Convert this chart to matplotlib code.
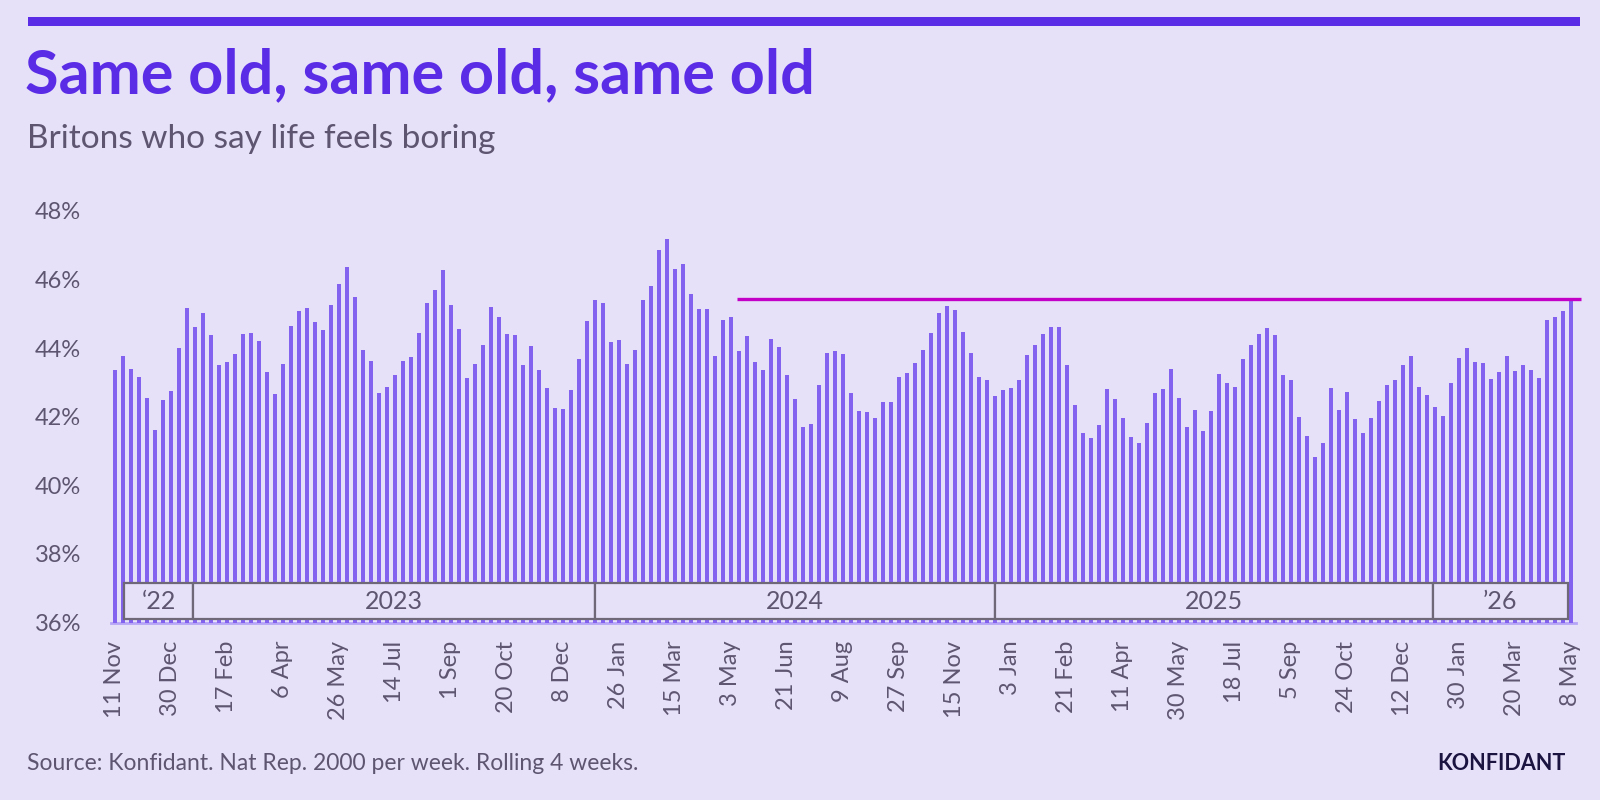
import matplotlib
matplotlib.use("Agg")
import matplotlib.pyplot as plt
from matplotlib.patches import Rectangle

# ---------------- data ----------------
values = [
    43.36, 43.78, 43.39, 43.16, 42.54, 41.62, 42.49, 42.75, 44.01, 45.17,
    44.62, 45.03, 44.37, 43.50, 43.59, 43.83, 44.42, 44.45, 44.22, 43.29,
    42.65, 43.55, 44.65, 45.09, 45.16, 44.75, 44.53, 45.27, 45.86, 46.36,
    45.48, 43.95, 43.62, 42.70, 42.88, 43.22, 43.62, 43.73, 44.45, 45.32,
    45.69, 46.28, 45.25, 44.55, 43.14, 43.55, 44.09, 45.20, 44.92, 44.42,
    44.37, 43.50, 44.06, 43.37, 42.83, 42.26, 42.23, 42.78, 43.67, 44.78,
    45.40, 45.32, 44.17, 44.25, 43.55, 43.94, 45.40, 45.81, 46.87, 47.17,
    46.31, 46.46, 45.58, 45.14, 45.14, 43.78, 44.81, 44.91, 43.91, 44.34,
    43.59, 43.37, 44.27, 44.04, 43.22, 42.52, 41.69, 41.80, 42.93, 43.86,
    43.91, 43.83, 42.68, 42.18, 42.13, 41.97, 42.44, 42.42, 43.17, 43.28,
    43.57, 43.95, 44.45, 45.03, 45.22, 45.12, 44.48, 43.86, 43.17, 43.06,
    42.61, 42.77, 42.85, 43.08, 43.81, 44.08, 44.42, 44.62, 44.62, 43.52,
    42.33, 41.52, 41.39, 41.76, 42.80, 42.52, 41.97, 41.41, 41.23, 41.83,
    42.70, 42.80, 43.39, 42.54, 41.69, 42.21, 41.57, 42.18, 43.24, 42.98,
    42.88, 43.67, 44.08, 44.42, 44.58, 44.39, 43.22, 43.08, 42.00, 41.44,
    40.82, 41.22, 42.83, 42.21, 42.72, 41.94, 41.53, 41.97, 42.47, 42.93,
    43.06, 43.52, 43.76, 42.88, 42.62, 42.28, 42.03, 42.98, 43.70, 44.01,
    43.59, 43.57, 43.11, 43.31, 43.78, 43.34, 43.52, 43.37, 43.14, 44.81,
    44.91, 45.09, 45.37,
]

tick_labels = ["11 Nov", "30 Dec", "17 Feb", "6 Apr", "26 May", "14 Jul", "1 Sep",
               "20 Oct", "8 Dec", "26 Jan", "15 Mar", "3 May", "21 Jun", "9 Aug",
               "27 Sep", "15 Nov", "3 Jan", "21 Feb", "11 Apr", "30 May", "18 Jul",
               "5 Sep", "24 Oct", "12 Dec", "30 Jan", "20 Mar", "8 May"]
tick_step = 7

year_labels = ["\u201822", "2023", "2024", "2025", "\u201926"]
year_edges = [1.18, 9.76, 59.98, 110.0, 164.76, 181.6]

benchmark_value = 45.42
benchmark_span = (77.7, 183.2)

y_ticks = [36, 38, 40, 42, 44, 46, 48]

# ---------------- style ----------------
BG = "#E6E0F9"
BAR = "#8262EE"
ACCENT = "#5A2CE6"
GREY = "#5E5670"
BOX = "#6E6879"
MAGENTA = "#C200C6"
FONT = ["Lato", "DejaVu Sans"]
plt.rcParams["font.family"] = FONT

W, H = 1600, 800
fig = plt.figure(figsize=(16, 8), dpi=100, facecolor=BG)
ax = fig.add_axes([110.5 / W, (H - 622.5) / H, 1465 / W, 422.5 / H])
ax.set_facecolor(BG)

x = list(range(len(values)))
ax.bar(x, values, width=0.55, color=BAR, zorder=2, linewidth=0)
ax.set_xlim(-0.55, 182.57)
ax.set_ylim(36, 48.32)

for s in ax.spines.values():
    s.set_visible(False)

ax.axhline(35.985, color="#B6A4F6", lw=2.0, zorder=1, clip_on=False)

# benchmark line
ax.plot(benchmark_span, [benchmark_value] * 2, color=MAGENTA, lw=2.4,
        zorder=4, clip_on=False, solid_capstyle="butt")

# year band
yb0, yb1 = 36.09, 37.16
for i, lab in enumerate(year_labels):
    x0, x1 = year_edges[i], year_edges[i + 1]
    ax.add_patch(Rectangle((x0, yb0), x1 - x0, yb1 - yb0, facecolor=BG,
                           edgecolor=BOX, lw=1.6, zorder=3))
    ax.text((x0 + x1) / 2, (yb0 + yb1) / 2, lab, ha="center", va="center",
            fontsize=18, color=GREY, zorder=5)

# axes ticks
ax.set_yticks(y_ticks)
ax.set_yticklabels([f"{v}%" for v in y_ticks], fontsize=17, color=GREY)
ax.set_xticks(list(range(0, len(values), tick_step)))
ax.set_xticklabels(tick_labels, rotation=90, fontsize=17, color=GREY)
ax.tick_params(axis="y", length=0, pad=21)
ax.tick_params(axis="x", length=0, pad=13)

# header
fig.add_artist(Rectangle((27.5 / W, (H - 25.5) / H), (1580 - 27.5) / W, 8.5 / H,
                         facecolor=ACCENT, edgecolor="none", transform=fig.transFigure))
fig.text(25 / W, 1 - 75 / H, "Same old, same old, same old", fontsize=44,
         fontweight="bold", color=ACCENT, va="center", ha="left")
fig.text(27 / W, 1 - 139 / H, "Britons who say life feels boring", fontsize=24,
         color=GREY, va="center", ha="left")

# footer
fig.text(27 / W, 1 - 763 / H, "Source: Konfidant. Nat Rep. 2000 per week. Rolling 4 weeks.",
         fontsize=16.5, color=GREY, va="center", ha="left")
fig.text(1566 / W, 1 - 763 / H, "KONFIDANT", fontsize=15.5, fontweight="bold",
         color="#1B1340", va="center", ha="right")

fig.savefig("out.png", dpi=100, facecolor=BG)
